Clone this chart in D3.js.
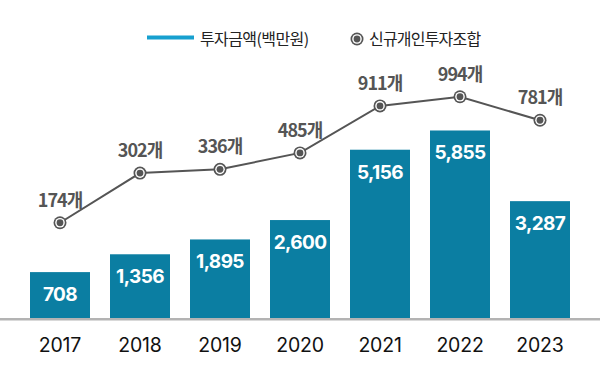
<!DOCTYPE html>
<html>
<head>
<meta charset="utf-8">
<script src="https://cdn.jsdelivr.net/npm/d3@7"></script>
<style>
  html, body { margin: 0; padding: 0; background: #fff; }
  svg { display: block; }
</style>
</head>
<body>
<div id="viz"></div>
<script>
const years = ['2017', '2018', '2019', '2020', '2021', '2022', '2023'];
const investAmount = [708, 1356, 1895, 2600, 5156, 5855, 3287];   // 투자금액(백만원)
const unionCount = [174, 302, 336, 485, 911, 994, 781];           // 신규개인투자조합
const legendLabels = ['투자금액(백만원)', '신규개인투자조합'];

(() => {
  let width = 600,
    height = 380,
    baseline = 318;

  let svg = d3.select('#viz')
    .append('svg')
    .attr('width', width)
    .attr('height', height);

  let x = d3.scaleBand()
    .domain(years)
    .range([20, 580])
    .paddingInner(0.25)
    .paddingOuter(0.125);

  let yBar = d3.scaleLinear()
    .domain([-960, 6000])
    .range([baseline, 126.5]);

  // the source compresses the upper part of the count axis
  let yLine = d3.scaleLinear()
    .domain([0, 300, 1000])
    .range([291, 173.3, 96.1]);

  let barColor = '#0b7ea2',
    lineColor = '#555555',
    cjk = "'Noto Sans CJK KR', 'Noto Sans', sans-serif",
    latin = "Inter, 'Noto Sans', sans-serif";

  // bars
  let rows = years.map((yr, i) => ({ year: yr, amount: investAmount[i], count: unionCount[i] }));

  svg.selectAll('.bar')
    .data(rows)
    .join('rect')
    .attr('class', 'bar')
    .attr('x', d => x(d.year))
    .attr('y', d => yBar(d.amount))
    .attr('width', x.bandwidth())
    .attr('height', d => baseline - yBar(d.amount))
    .style('fill', barColor);

  svg.selectAll('.bar-label')
    .data(rows)
    .join('text')
    .attr('class', 'bar-label')
    .attr('x', d => x(d.year) + x.bandwidth() / 2)
    .attr('y', d => yBar(d.amount) + 29)
    .attr('text-anchor', 'middle')
    .style('font-family', latin)
    .style('font-weight', 700)
    .style('font-size', '19px')
    .style('letter-spacing', '-0.6px')
    .style('fill', '#fff')
    .text(d => d3.format(',')(d.amount));

  // x axis
  let axis = svg.append('g')
    .attr('transform', `translate(0,${baseline + 1.2})`)
    .call(d3.axisBottom(x).tickSize(0));

  axis.select('.domain').remove();
  axis.append('line')
    .attr('x1', 0)
    .attr('x2', width)
    .style('stroke', '#b3b3b3')
    .style('stroke-width', 2.5);

  axis.selectAll('.tick text')
    .attr('y', 33)
    .attr('dy', 0)
    .style('font-family', latin)
    .style('font-size', '19.5px')
    .style('letter-spacing', '-0.2px')
    .style('fill', '#111');

  // line
  let cx = d => x(d.year) + x.bandwidth() / 2;

  let line = d3.line()
    .x(cx)
    .y(d => yLine(d.count));

  svg.append('path')
    .datum(rows)
    .attr('d', line)
    .style('fill', 'none')
    .style('stroke', lineColor)
    .style('stroke-width', 2);

  function marker(sel) {
    sel.append('circle').attr('r', 6.5).style('fill', lineColor);
    sel.append('circle').attr('r', 4.8).style('fill', '#fff');
    sel.append('circle').attr('r', 3.4).style('fill', lineColor);
  }

  svg.selectAll('.point')
    .data(rows)
    .join('g')
    .attr('class', 'point')
    .attr('transform', d => `translate(${cx(d)},${yLine(d.count)})`)
    .call(marker);

  svg.selectAll('.point-label')
    .data(rows)
    .join('text')
    .attr('class', 'point-label')
    .attr('x', cx)
    .attr('y', d => yLine(d.count) - 16)
    .attr('text-anchor', 'middle')
    .style('font-family', cjk)
    .style('font-weight', 700)
    .style('font-size', '18px')
    .style('letter-spacing', '-1px')
    .style('fill', lineColor)
    .text(d => d.count + '개');

  // legend
  let legend = svg.append('g');

  legend.append('line')
    .attr('x1', 147)
    .attr('x2', 194)
    .attr('y1', 37.5)
    .attr('y2', 37.5)
    .style('stroke', '#17a0cf')
    .style('stroke-width', 4);

  legend.append('text')
    .attr('x', 200)
    .attr('y', 45)
    .style('font-family', cjk)
    .style('font-size', '16px')
    .style('letter-spacing', '-0.6px')
    .style('fill', '#222')
    .text(legendLabels[0]);

  legend.append('g')
    .attr('transform', 'translate(357,39)')
    .call(marker);

  legend.append('text')
    .attr('x', 369)
    .attr('y', 45)
    .style('font-family', cjk)
    .style('font-size', '16px')
    .style('letter-spacing', '-0.8px')
    .style('fill', '#222')
    .text(legendLabels[1]);
})();
</script>
</body>
</html>
